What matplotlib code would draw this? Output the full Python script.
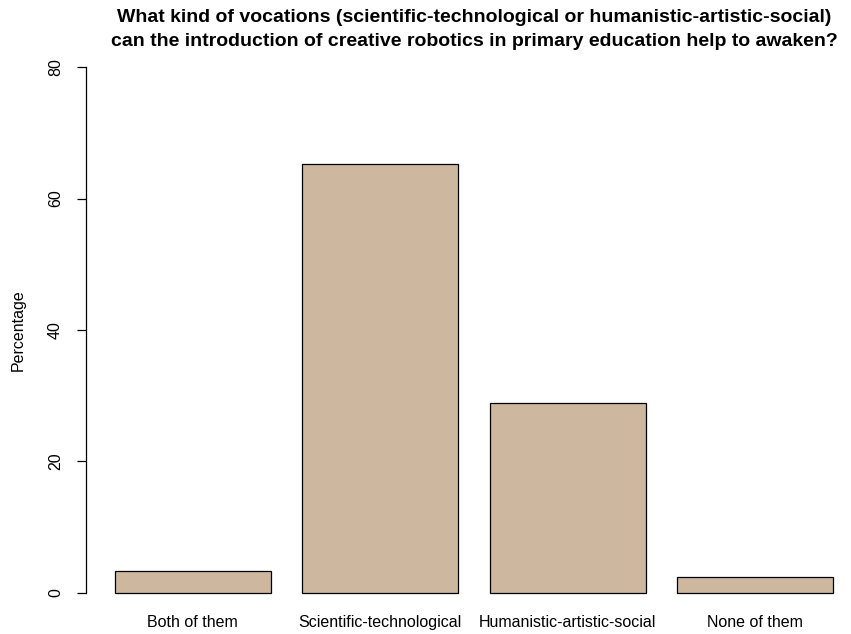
import matplotlib
matplotlib.use("Agg")
import matplotlib.pyplot as plt

categories = ["Both of them", "Scientific-technological",
              "Humanistic-artistic-social", "None of them"]
percentages = [3.3, 65.2, 28.9, 2.4]
yticks = [0, 20, 40, 60, 80]
title = ("What kind of vocations (scientific-technological or humanistic-artistic-social)\n"
         "can the introduction of creative robotics in primary education help to awaken?")

plt.rcParams['font.family'] = ['Liberation Sans', 'DejaVu Sans']

W, H = 851, 634
fig = plt.figure(figsize=(W / 100, H / 100), dpi=100)
# plot region in pixels (R-like layout, right edge runs past the image)
left, right, top, bottom = 86, 862, 46, 614
ax = fig.add_axes([left / W, (H - bottom) / H, (right - left) / W, (bottom - top) / H])

# R barplot geometry: width 1, space 0.2
x = [0.2 + i * 1.2 + 0.5 for i in range(len(categories))]
ax.bar(x, percentages, width=1.0, color="#CDB79E", edgecolor="black", linewidth=0.9)

ax.set_xlim(0.016, 4.984)
ax.set_ylim(-3.2, 83.2)

for s in ["top", "right", "bottom"]:
    ax.spines[s].set_visible(False)
ax.spines["left"].set_bounds(0, 80)
ax.spines["left"].set_linewidth(0.9)

fs = 11.5
ax.set_yticks(yticks)
ax.set_yticklabels([str(v) for v in yticks], rotation=90, va="center", fontsize=fs)
ax.tick_params(axis="y", length=6.5, width=0.9, pad=10)

ax.set_xticks(x)
ax.set_xticklabels(categories, fontsize=fs)
ax.tick_params(axis="x", length=0, pad=1)

ax.set_ylabel("Percentage", fontsize=fs, labelpad=16)
fig.text(474 / W, 1 - 9 / H, title, ha="center", va="top", fontsize=14,
         fontweight="bold", linespacing=1.55)

fig.savefig("out.png", dpi=100)
